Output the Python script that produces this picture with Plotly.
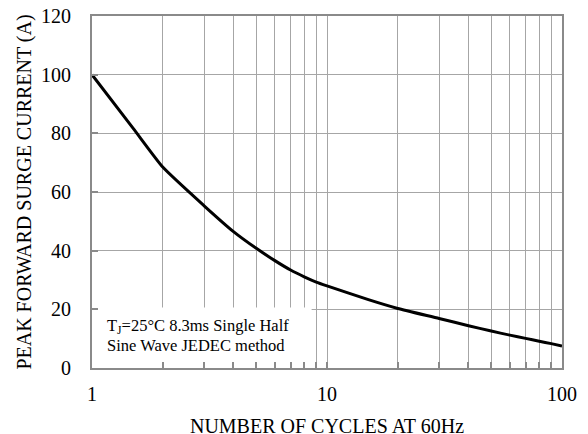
import plotly.graph_objects as go

cycles = [1, 1.5, 2, 3, 4, 5, 6, 7, 8, 9, 10, 15, 20, 30, 40, 50, 60, 70, 80, 90, 100]
current = [100, 81.6, 68.5, 55.3, 46.5, 40.8, 36.6, 33.4, 31.1, 29.3, 28.0, 23.3, 20.3, 16.9, 14.4, 12.6, 11.2, 10.1, 9.1, 8.3, 7.5]

x_major = [1, 10, 100]
x_major_text = ["1", "10", "100"]
x_minor = [2, 3, 4, 5, 6, 7, 8, 9, 20, 30, 40, 50, 60, 70, 80, 90]
y_ticks = [0, 20, 40, 60, 80, 100, 120]

FONT = "Liberation Serif, Times New Roman, serif"
GRID = "#a6a6a6"
AX = "#8a8a8a"

fig = go.Figure()
fig.add_trace(go.Scatter(
    x=cycles, y=current, mode="lines",
    line=dict(color="black", width=3, shape="spline", smoothing=0.5),
    showlegend=False, hoverinfo="skip"))

# the page body has an 8px margin, so the figure is offset by (8, 8)
fig.update_layout(
    width=588, height=434,
    margin=dict(l=84, r=34, t=8, b=74, autoexpand=False),
    paper_bgcolor="white", plot_bgcolor="white",
    font=dict(family=FONT, size=20, color="black"),
    showlegend=False,
)

fig.update_xaxes(
    type="log", range=[0, 2], automargin=False,
    tickvals=x_major, ticktext=x_major_text,
    ticks="inside", ticklen=6, tickwidth=1.5, tickcolor=AX,
    showgrid=True, gridcolor=GRID, gridwidth=1.2,
    minor=dict(tickvals=x_minor, ticks="inside", ticklen=6, tickwidth=1.5, tickcolor=AX,
               showgrid=True, gridcolor=GRID, gridwidth=1.2),
    showline=True, linecolor=AX, linewidth=2, mirror=True,
    zeroline=False,
    ticklabelstandoff=7, ticklabeloverflow="allow",
    tickfont=dict(family=FONT, size=20, color="black"),
    title=dict(text="NUMBER OF CYCLES AT 60Hz", font=dict(family=FONT, size=20, color="black"), standoff=15),
)

fig.update_yaxes(
    range=[0, 120], tickvals=y_ticks, automargin=False,
    ticks="inside", ticklen=6, tickwidth=1.5, tickcolor=AX,
    showgrid=True, gridcolor=GRID, gridwidth=1.2,
    showline=True, linecolor=AX, linewidth=2, mirror=True,
    zeroline=False,
    ticklabelstandoff=15, ticklabeloverflow="allow",
    tickfont=dict(family=FONT, size=20, color="black"),
    title=dict(text="PEAK FORWARD SURGE CURRENT (A)", font=dict(family=FONT, size=20, color="black"), standoff=4),
)

fig.add_shape(type="rect", xref="x", yref="y", x0=1, x1=8.6, y0=0, y1=20.6,
              fillcolor="white", line=dict(width=0), layer="between")

note_lines = ["T<sub>J</sub>=25°C 8.3ms Single Half", "Sine Wave JEDEC method"]
note_y_px = [42, 23]  # distance above the x axis, in pixels
for txt, dy in zip(note_lines, note_y_px):
    fig.add_annotation(
        xref="paper", yref="paper", x=13 / 470, y=dy / 352,
        xanchor="left", yanchor="middle", align="left", showarrow=False,
        text=txt, font=dict(family=FONT, size=16.5, color="black"))

fig.write_html("out.html")
